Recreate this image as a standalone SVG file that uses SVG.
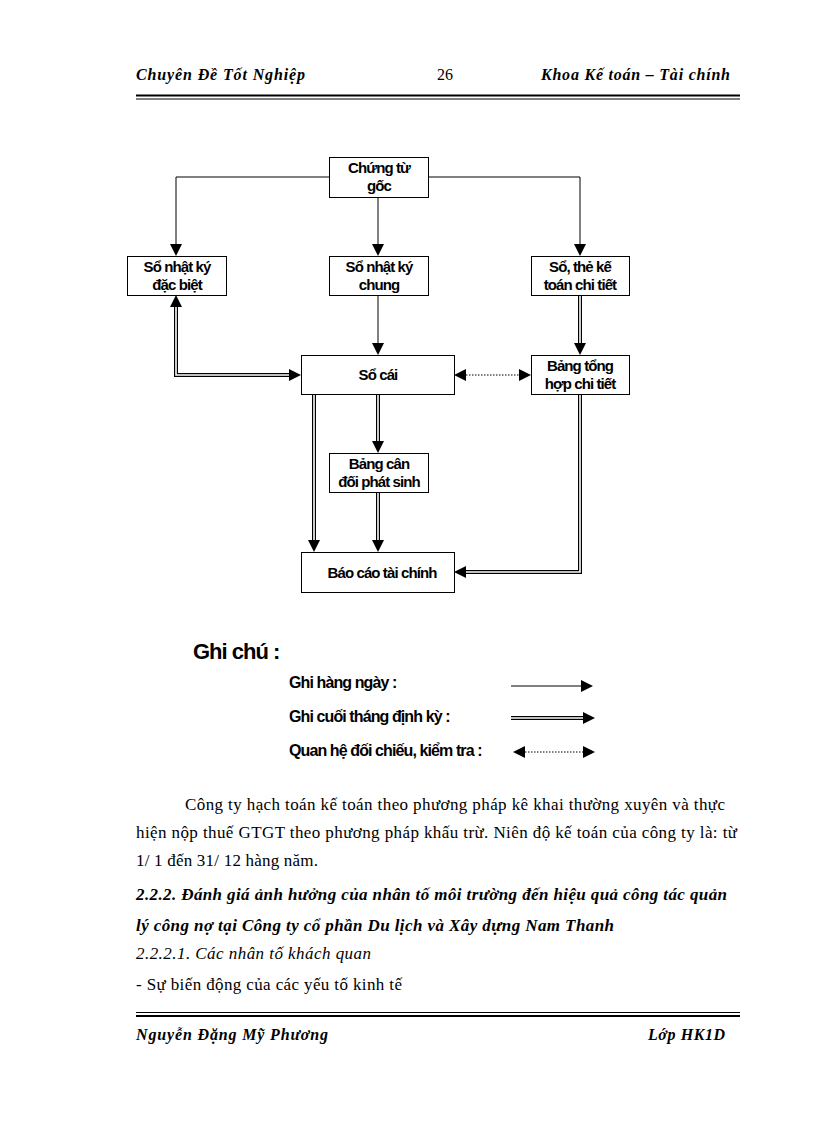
<svg xmlns="http://www.w3.org/2000/svg" width="816" height="1123" viewBox="0 0 816 1123">
<style>
.bg{fill:#fff}
.box{fill:#fff;stroke:#000;stroke-width:1}
.bt{font-family:"Liberation Sans",Arial,sans-serif;font-weight:bold;font-size:15px;letter-spacing:-0.9px;text-anchor:middle;fill:#000}
.ln{fill:none;stroke:#000;stroke-width:1}
.dl{fill:none;stroke:#000;stroke-width:4}
.dw{fill:none;stroke:#fff;stroke-width:1.6}
.dot{fill:none;stroke:#000;stroke-width:1;stroke-dasharray:1.5 1.5}
.hd{font-family:"Liberation Serif","Times New Roman",serif;font-style:italic;font-weight:bold;font-size:16px;fill:#000}
.num{font-family:"Liberation Serif","Times New Roman",serif;font-size:16px;fill:#000}
.body{font-family:"Liberation Serif","Times New Roman",serif;font-size:17px;fill:#000}
.bi{font-family:"Liberation Serif","Times New Roman",serif;font-size:17px;font-weight:bold;font-style:italic;fill:#000}
.it{font-family:"Liberation Serif","Times New Roman",serif;font-size:17px;font-style:italic;fill:#000}
.lg{font-family:"Liberation Sans",Arial,sans-serif;font-weight:bold;font-size:16px;letter-spacing:-0.9px;fill:#000}
</style>
<defs>
<marker id="ah" markerUnits="userSpaceOnUse" markerWidth="12" markerHeight="12" refX="0" refY="6" orient="auto-start-reverse" viewBox="0 0 12 12">
<path d="M0,0 L12,6 L0,12 z" fill="#000"/>
</marker>
</defs>
<rect class="bg" x="0" y="0" width="816" height="1123"/>

<g id="header">
<text class="hd" x="136" y="80" textLength="169" lengthAdjust="spacing">Chuyên  Đề Tốt Nghiệp</text>
<text class="num" x="445" y="80" text-anchor="middle">26</text>
<text class="hd" x="541" y="80" textLength="189" lengthAdjust="spacing">Khoa Kế toán – Tài chính</text>
<line x1="136" y1="95.5" x2="740" y2="95.5" stroke="#000" stroke-width="2"/>
<line x1="136" y1="99" x2="740" y2="99" stroke="#000" stroke-width="1"/>
</g>

<g id="connectors">
<path class="ln" d="M329,177 H176 V244" marker-end="url(#ah)"/>
<path class="ln" d="M428,177 H580 V244" marker-end="url(#ah)"/>
<path class="ln" d="M378,197 V244" marker-end="url(#ah)"/>
<path class="ln" d="M378,295 V343" marker-end="url(#ah)"/>
<path class="dl" d="M580,295 V343" marker-end="url(#ah)"/>
<path class="dw" d="M580,295 V343"/>
<path class="dl" d="M176,307 V375 H289" marker-start="url(#ah)" marker-end="url(#ah)"/>
<path class="dw" d="M176,307 V375 H289"/>
<path class="dot" d="M466,375 H519" marker-start="url(#ah)" marker-end="url(#ah)"/>
<path class="dl" d="M314,394 V540" marker-end="url(#ah)"/>
<path class="dw" d="M314,394 V540"/>
<path class="dl" d="M378,394 V441" marker-end="url(#ah)"/>
<path class="dw" d="M378,394 V441"/>
<path class="dl" d="M378,492 V540" marker-end="url(#ah)"/>
<path class="dw" d="M378,492 V540"/>
<path class="dl" d="M580,394 V572 H466" marker-end="url(#ah)"/>
<path class="dw" d="M580,394 V572 H466"/>
</g>

<g id="n-chungtu">
<rect class="box" x="329.5" y="157.5" width="99" height="40"/>
<text class="bt" x="379" y="173">Chứng từ</text>
<text class="bt" x="379" y="191">gốc</text>
</g>
<g id="n-nkdb">
<rect class="box" x="127.5" y="256.5" width="99" height="39"/>
<text class="bt" x="177" y="272">Sổ nhật ký</text>
<text class="bt" x="177" y="290">đặc biệt</text>
</g>
<g id="n-nkc">
<rect class="box" x="329.5" y="256.5" width="99" height="39"/>
<text class="bt" x="379" y="272">Sổ nhật ký</text>
<text class="bt" x="379" y="290">chung</text>
</g>
<g id="n-sothe">
<rect class="box" x="531.5" y="256.5" width="98" height="39"/>
<text class="bt" x="580" y="272">Sổ, thẻ kế</text>
<text class="bt" x="580" y="290">toán chi tiết</text>
</g>
<g id="n-socai">
<rect class="box" x="301.5" y="355.5" width="153" height="39"/>
<text class="bt" x="378" y="380">Sổ cái</text>
</g>
<g id="n-bangth">
<rect class="box" x="531.5" y="355.5" width="98" height="39"/>
<text class="bt" x="580" y="371">Bảng tổng</text>
<text class="bt" x="580" y="389">hợp chi tiết</text>
</g>
<g id="n-bangcd">
<rect class="box" x="329.5" y="453.5" width="99" height="39"/>
<text class="bt" x="379" y="469">Bảng cân</text>
<text class="bt" x="379" y="487">đối phát sinh</text>
</g>
<g id="n-baocao">
<rect class="box" x="301.5" y="552.5" width="153" height="40"/>
<text class="bt" x="382" y="578">Báo cáo tài chính</text>
</g>

<g id="legend">
<text x="193" y="659" font-family="'Liberation Sans',Arial,sans-serif" font-weight="bold" font-size="22" letter-spacing="-1">Ghi chú :</text>
<text class="lg" x="289" y="688">Ghi hàng ngày :</text>
<text class="lg" x="289" y="722">Ghi cuối tháng định kỳ :</text>
<text class="lg" x="289" y="756">Quan hệ đối chiếu, kiểm tra :</text>
<path class="ln" d="M511,686 H581" marker-end="url(#ah)"/>
<path class="dl" d="M511,718 H583" marker-end="url(#ah)"/>
<path class="dw" d="M509,718 H583"/>
<path class="dot" d="M525,752 H583" marker-start="url(#ah)" marker-end="url(#ah)"/>
</g>

<g id="bodytext">
<text class="body" x="185" y="810" textLength="540" lengthAdjust="spacing">Công ty hạch toán kế toán theo phương  pháp  kê khai thường xuyên và  thực</text>
<text class="body" x="136" y="838" textLength="601" lengthAdjust="spacing">hiện nộp thuế GTGT  theo phương pháp  khấu trừ. Niên độ kế toán của công ty là: từ</text>
<text class="body" x="136" y="866" textLength="182" lengthAdjust="spacing">1/ 1 đến 31/ 12 hàng năm.</text>
<text class="bi" x="136" y="900" textLength="591" lengthAdjust="spacing">2.2.2. Đánh giá ảnh hưởng của nhân tố môi trường đến hiệu quả công tác quản</text>
<text class="bi" x="136" y="931" textLength="478" lengthAdjust="spacing">lý công nợ tại Công ty cổ phần Du lịch và Xây dựng Nam Thanh</text>
<text class="it" x="136" y="959" textLength="235" lengthAdjust="spacing">2.2.2.1. Các nhân tố khách quan</text>
<text class="body" x="136" y="990" textLength="266" lengthAdjust="spacing">- Sự biến động của các yếu tố kinh tế</text>
</g>

<g id="footer">
<line x1="136" y1="1012.5" x2="740" y2="1012.5" stroke="#000" stroke-width="1"/>
<line x1="136" y1="1016" x2="740" y2="1016" stroke="#000" stroke-width="2"/>
<text class="hd" x="136" y="1040" textLength="192" lengthAdjust="spacing">Nguyễn  Đặng Mỹ Phương</text>
<text class="hd" x="648" y="1040" textLength="77" lengthAdjust="spacing">Lớp HK1D</text>
</g>
</svg>
